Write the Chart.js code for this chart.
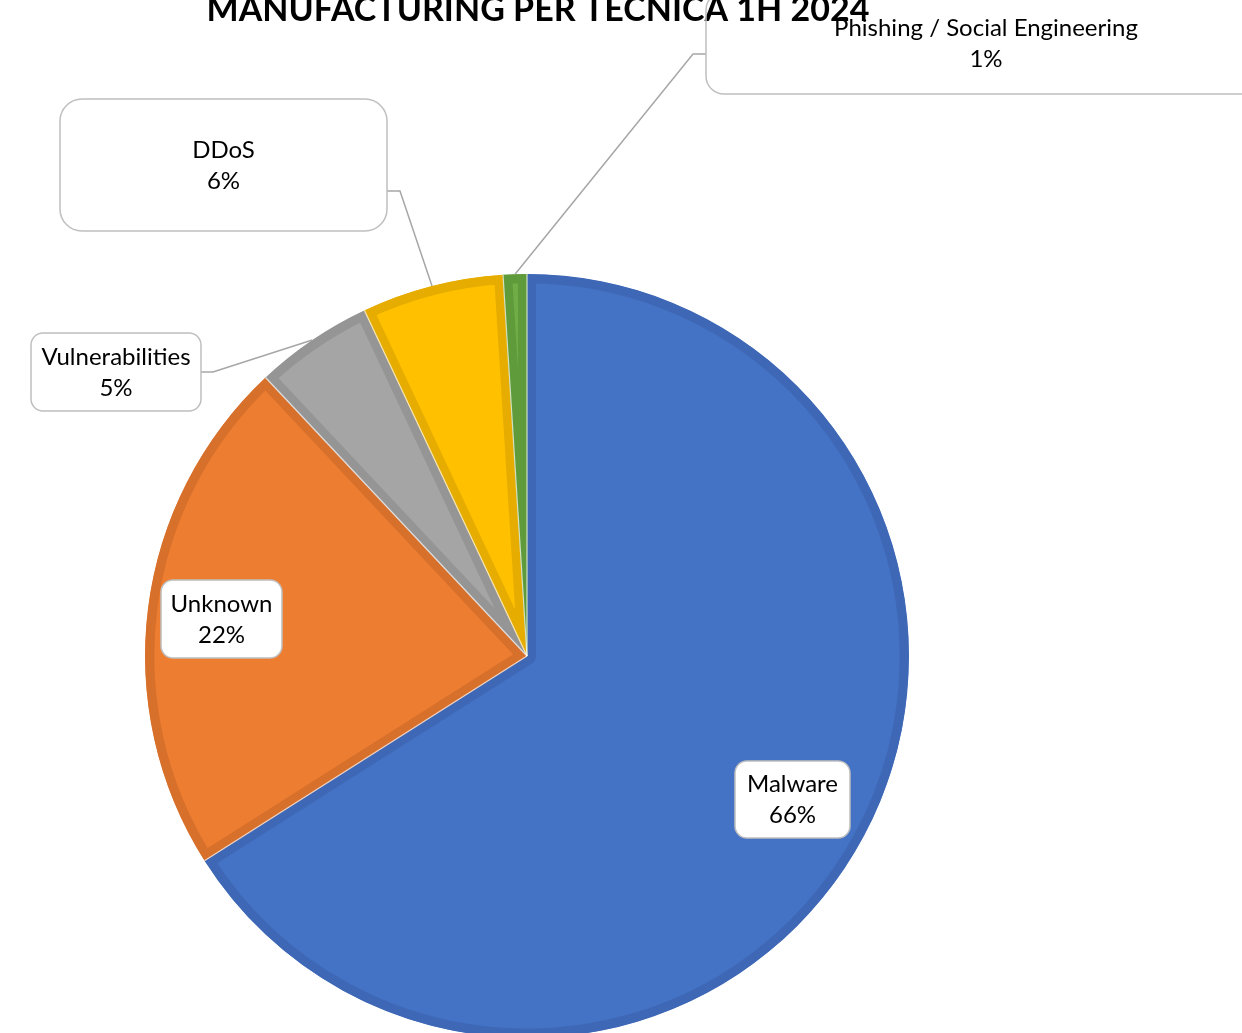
<!DOCTYPE html>
<html lang="it">
<head>
<meta charset="utf-8">
<title>Manufacturing per tecnica 1H 2024</title>
<script src="https://cdn.jsdelivr.net/npm/chart.js@4.4.1/dist/chart.umd.min.js"></script>
<style>
    html, body { margin: 0; padding: 0; background: #ffffff; overflow: hidden; }
    #torta { display: block; }
</style>
</head>
<body>
<canvas id="torta" width="1242" height="1100"></canvas>
<script>
// Dati: attacchi al manifatturiero per tecnica (percentuali)
const categorie = ['Malware', 'Unknown', 'Vulnerabilities', 'DDoS', 'Phishing / Social Engineering'];
const valori = [66, 22, 5, 6, 1];
const titolo = 'MANUFACTURING PER TECNICA 1H 2024';

// colori stile Office
const coloriFill = ['#4472C4', '#ED7D31', '#A5A5A5', '#FFC000', '#70AD47'];
const coloriBordo = ['#3E68B6', '#D7702B', '#959595', '#E6AD00', '#609B3B'];

const fontTesto = '24px Lato, "Open Sans", sans-serif';
const fontTitolo = 'bold 34px Lato, "Open Sans", sans-serif';

// posizione dei riquadri delle etichette (x, y, larghezza, altezza, raggio angoli)
// gomito = punto dove la linea guida esce dal riquadro
const riquadri = [
    { x: 735, y: 761, w: 115, h: 77, r: 12 },
    { x: 161, y: 580, w: 121, h: 78, r: 12 },
    { x: 31, y: 333, w: 170, h: 78, r: 12, uscita: [201, 372], gomito: [213, 372] },
    { x: 60, y: 99, w: 327, h: 132, r: 22, uscita: [387, 191], gomito: [400, 191] },
    { x: 706, y: -8, w: 560, h: 102, r: 18, uscita: [706, 54], gomito: [693, 54] }
];

function percorsoRiquadro(ctx, b) {
    ctx.beginPath();
    ctx.roundRect(b.x, b.y, b.w, b.h, b.r);
}

// disegna separatori, etichette a riquadro, linee guida e titolo
const etichette = {
    id: 'etichette',
    afterDatasetsDraw(chart) {
        const ctx = chart.ctx;
        const archi = chart.getDatasetMeta(0).data;
        ctx.save();

        // sottile linea chiara tra le fette
        ctx.strokeStyle = 'rgba(255,255,255,0.7)';
        ctx.lineWidth = 1.2;
        archi.forEach(arco => {
            const p = arco.getProps(['x', 'y', 'startAngle', 'outerRadius'], true);
            ctx.beginPath();
            ctx.moveTo(p.x, p.y);
            ctx.lineTo(p.x + Math.cos(p.startAngle) * p.outerRadius, p.y + Math.sin(p.startAngle) * p.outerRadius);
            ctx.stroke();
        });

        // linee guida verso il bordo della fetta
        ctx.strokeStyle = '#A6A6A6';
        ctx.lineWidth = 1.5;
        archi.forEach((arco, i) => {
            const b = riquadri[i];
            if (!b.gomito) return;
            const p = arco.getProps(['x', 'y', 'startAngle', 'endAngle', 'outerRadius'], true);
            const medio = (p.startAngle + p.endAngle) / 2;
            const fx = p.x + Math.cos(medio) * p.outerRadius;
            const fy = p.y + Math.sin(medio) * p.outerRadius;
            ctx.beginPath();
            ctx.moveTo(b.uscita[0], b.uscita[1]);
            ctx.lineTo(b.gomito[0], b.gomito[1]);
            ctx.lineTo(fx, fy);
            ctx.stroke();
        });

        // sfondo bianco dei riquadri
        ctx.fillStyle = '#ffffff';
        riquadri.forEach(b => { percorsoRiquadro(ctx, b); ctx.fill(); });

        // titolo
        ctx.fillStyle = '#000000';
        ctx.font = fontTitolo;
        ctx.textAlign = 'center';
        ctx.textBaseline = 'alphabetic';
        ctx.fillText(titolo, 538, 21);

        // bordo e testo dei riquadri
        ctx.strokeStyle = '#BFBFBF';
        ctx.lineWidth = 1.5;
        ctx.font = fontTesto;
        ctx.textBaseline = 'middle';
        riquadri.forEach((b, i) => {
            percorsoRiquadro(ctx, b);
            ctx.stroke();
            const cx = b.x + b.w / 2;
            const cy = b.y + b.h / 2;
            ctx.fillStyle = '#000000';
            ctx.fillText(categorie[i], cx, cy - 15);
            ctx.fillText(valori[i] + '%', cx, cy + 16);
        });
        ctx.restore();
    }
};

new Chart(document.getElementById('torta'), {
    type: 'pie',
    data: {
        labels: categorie,
        datasets: [{
            data: valori,
            backgroundColor: coloriFill,
            borderColor: coloriBordo,
            borderWidth: 9,
            borderAlign: 'inner',
            hoverOffset: 0
        }]
    },
    options: {
        responsive: false,
        animation: false,
        devicePixelRatio: 1,
        events: [],
        layout: { padding: { left: 145, right: 333, top: 274, bottom: 62 } },
        plugins: {
            legend: { display: false },
            tooltip: { enabled: false },
            title: { display: false }
        }
    },
    plugins: [etichette]
});
</script>
</body>
</html>
